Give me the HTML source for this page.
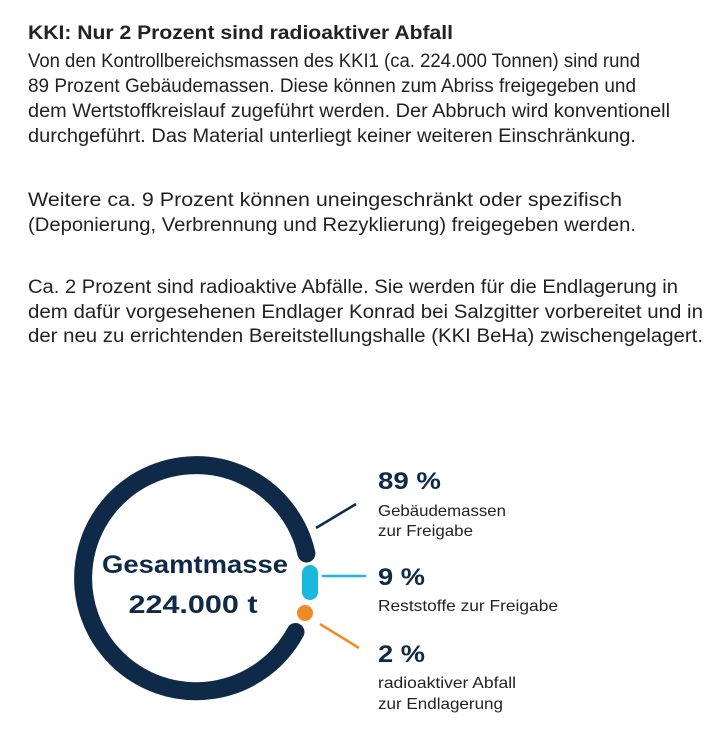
<!DOCTYPE html>
<html><head><meta charset="utf-8"><style>
html,body{margin:0;padding:0;background:#fff;}
svg{display:block}
</style></head><body>
<svg width="718" height="750" viewBox="0 0 718 750" xmlns="http://www.w3.org/2000/svg">
<g font-family="'Liberation Sans', sans-serif" font-size="19" fill="#222">
<text x="28" y="39" font-weight="bold" textLength="425" lengthAdjust="spacingAndGlyphs">KKI: Nur 2 Prozent sind radioaktiver Abfall</text>
<text x="28" y="67" textLength="612" lengthAdjust="spacingAndGlyphs">Von den Kontrollbereichsmassen des KKI1 (ca. 224.000 Tonnen) sind rund</text>
<text x="28" y="92" textLength="608" lengthAdjust="spacingAndGlyphs">89 Prozent Gebäudemassen. Diese können zum Abriss freigegeben und</text>
<text x="28" y="117" textLength="642" lengthAdjust="spacingAndGlyphs">dem Wertstoffkreislauf zugeführt werden. Der Abbruch wird konventionell</text>
<text x="28" y="142" textLength="608" lengthAdjust="spacingAndGlyphs">durchgeführt. Das Material unterliegt keiner weiteren Einschränkung.</text>
<text x="28" y="206" textLength="594" lengthAdjust="spacingAndGlyphs">Weitere ca. 9 Prozent können uneingeschränkt oder spezifisch</text>
<text x="28" y="231" textLength="608" lengthAdjust="spacingAndGlyphs">(Deponierung, Verbrennung und Rezyklierung) freigegeben werden.</text>
<text x="28" y="293" textLength="650" lengthAdjust="spacingAndGlyphs">Ca. 2 Prozent sind radioaktive Abfälle. Sie werden für die Endlagerung in</text>
<text x="28" y="318" textLength="675" lengthAdjust="spacingAndGlyphs">dem dafür vorgesehenen Endlager Konrad bei Salzgitter vorbereitet und in</text>
<text x="28" y="342" textLength="675" lengthAdjust="spacingAndGlyphs">der neu zu errichtenden Bereitstellungshalle (KKI BeHa) zwischengelagert.</text>
</g>
<path d="M 306.4 553.5 A 113 113 0 1 0 295.5 632" fill="none" stroke="#0f2a48" stroke-width="18" stroke-linecap="round"/>
<rect x="302" y="565" width="16" height="35" rx="8" fill="#1bb8dd"/>
<circle cx="305" cy="613" r="8" fill="#f08a24"/>
<line x1="316" y1="528" x2="356" y2="504" stroke="#0f2a48" stroke-width="2.5"/>
<line x1="322" y1="576" x2="366" y2="576" stroke="#1bb8dd" stroke-width="2.5"/>
<line x1="320" y1="624" x2="359" y2="648" stroke="#f08a24" stroke-width="2.5"/>
<g font-family="'Liberation Sans', sans-serif" font-weight="bold" fill="#0f2a48" text-anchor="middle">
<text x="195" y="573" font-size="25" textLength="186" lengthAdjust="spacingAndGlyphs">Gesamtmasse</text>
<text x="193" y="613" font-size="25" textLength="129" lengthAdjust="spacingAndGlyphs">224.000 t</text>
</g>
<g font-family="'Liberation Sans', sans-serif" fill="#0f2a48">
<text x="378" y="489" font-size="24" font-weight="bold" textLength="63" lengthAdjust="spacingAndGlyphs">89 %</text>
<text x="378" y="585" font-size="24" font-weight="bold" textLength="47" lengthAdjust="spacingAndGlyphs">9 %</text>
<text x="378" y="662" font-size="24" font-weight="bold" textLength="47" lengthAdjust="spacingAndGlyphs">2 %</text>
</g>
<g font-family="'Liberation Sans', sans-serif" font-size="16" fill="#222">
<text x="378" y="516" textLength="128" lengthAdjust="spacingAndGlyphs">Gebäudemassen</text>
<text x="378" y="536" textLength="95" lengthAdjust="spacingAndGlyphs">zur Freigabe</text>
<text x="378" y="611" textLength="180" lengthAdjust="spacingAndGlyphs">Reststoffe zur Freigabe</text>
<text x="378" y="688" textLength="138" lengthAdjust="spacingAndGlyphs">radioaktiver Abfall</text>
<text x="378" y="709" textLength="125" lengthAdjust="spacingAndGlyphs">zur Endlagerung</text>
</g>
</svg>
</body></html>
